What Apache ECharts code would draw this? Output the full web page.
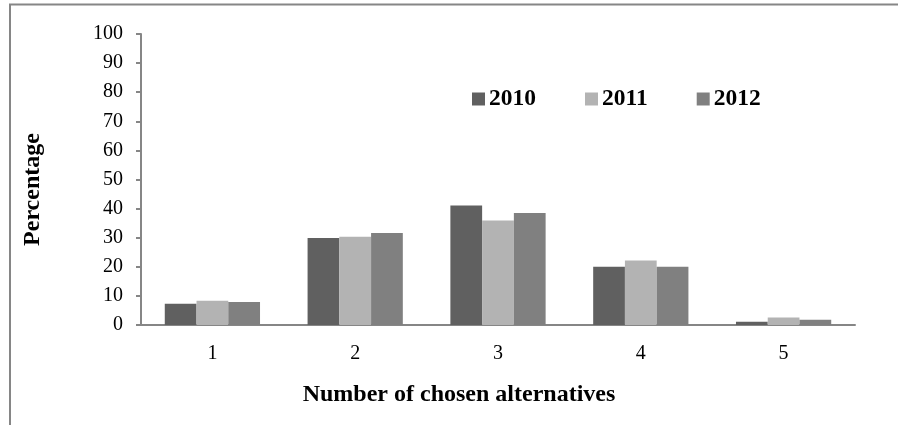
<!DOCTYPE html>
<html>
<head>
<meta charset="utf-8">
<script src="https://cdn.jsdelivr.net/npm/echarts@6/dist/echarts.min.js"></script>
<style>
  html, body { margin: 0; padding: 0; background: #fff; }
  #chart { width: 898px; height: 425px; }
</style>
</head>
<body>
<div id="chart"></div>
<script>
// Share of respondents by number of chosen alternatives
const categories = ['1', '2', '3', '4', '5'];
const years = ['2010', '2011', '2012'];
const values2010 = [7.3, 29.9, 41.1, 20.0, 1.1];
const values2011 = [8.3, 30.3, 35.9, 22.2, 2.6];
const values2012 = [7.9, 31.6, 38.5, 20.0, 1.8];
const seriesValues = [values2010, values2011, values2012];
const colors = ['#606060', '#b3b3b3', '#808080'];

const font = '"Liberation Serif", "Times New Roman", serif';
const chart = echarts.init(document.getElementById('chart'));

chart.setOption({
  animation: false,
  textStyle: { fontFamily: font },
  graphic: [{
    type: 'rect',
    shape: { x: 10, y: 4.5, width: 1000, height: 500 },
    style: { fill: 'none', stroke: '#868686', lineWidth: 2 },
    silent: true
  }],
  legend: {
    top: 82,
    left: 467,
    icon: 'rect',
    itemWidth: 13,
    itemHeight: 13,
    itemGap: 49,
    data: years,
    textStyle: { fontFamily: font, fontSize: 23.5, fontWeight: 'bold', color: '#000', padding: [0, 0, 0, -1] }
  },
  grid: { left: 141, right: 43, top: 34, bottom: 100, containLabel: false },
  xAxis: {
    type: 'category',
    data: categories,
    name: 'Number of chosen alternatives',
    nameLocation: 'middle',
    nameGap: 58,
    nameTextStyle: { fontFamily: font, fontSize: 24, fontWeight: 'bold', color: '#000', padding: [0, 78, 0, 0] },
    axisLine: { lineStyle: { color: '#868686', width: 2 } },
    axisTick: { show: false },
    axisLabel: { fontFamily: font, fontSize: 20, color: '#000', margin: 19 }
  },
  yAxis: {
    type: 'value',
    min: 0,
    max: 100,
    interval: 10,
    name: 'Percentage',
    nameLocation: 'middle',
    nameGap: 96,
    nameTextStyle: { fontFamily: font, fontSize: 24, fontWeight: 'bold', color: '#000', padding: [0, 20, 0, 0] },
    axisLine: { show: true, lineStyle: { color: '#868686', width: 2 } },
    axisTick: { show: true, inside: false, length: 5, lineStyle: { color: '#868686', width: 2 } },
    splitLine: { show: false },
    axisLabel: { fontFamily: font, fontSize: 20, color: '#000', margin: 18 }
  },
  series: years.map((y, i) => ({
    name: y,
    type: 'bar',
    data: seriesValues[i],
    barGap: '0%',
    barCategoryGap: '33.3%',
    itemStyle: { color: colors[i] }
  }))
});
</script>
</body>
</html>
